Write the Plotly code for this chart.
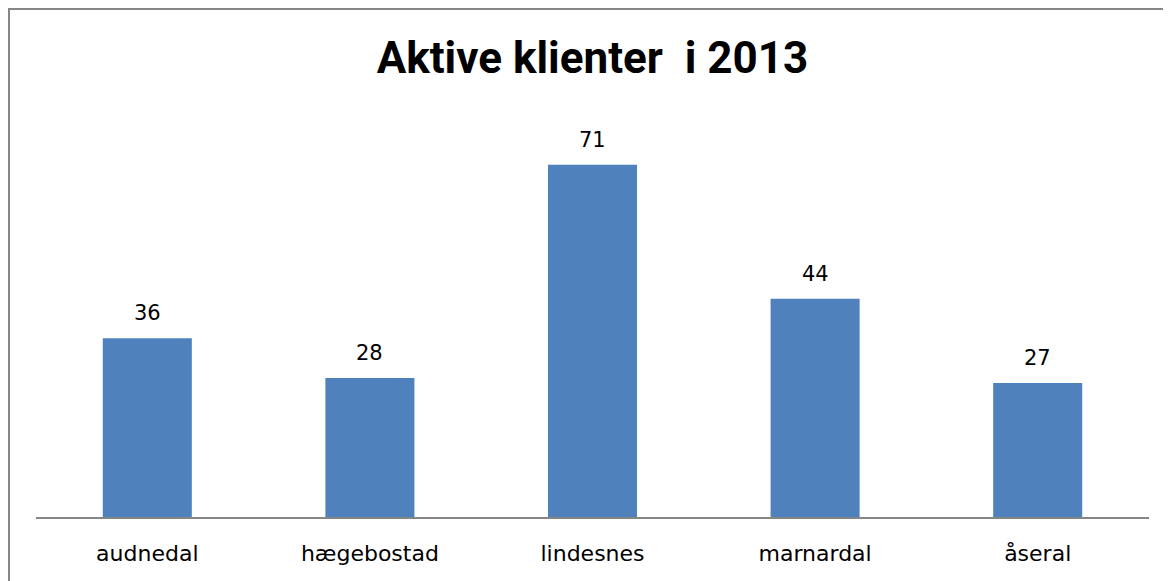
import plotly.graph_objects as go

categories = ["audnedal", "hægebostad", "lindesnes", "marnardal", "åseral"]
values = [36, 28, 71, 44, 27]
title_text = "Aktive klienter\u00a0\u00a0i 2013"

# page has an 8px body margin; compensate so the drawing lands where the reference is
OFF = 8
W, H = 1171 - OFF, 581 - OFF
L, R, T, B = 36 - OFF, 22, 120 - OFF, 64
pw, ph = W - L - R, H - T - B

fig = go.Figure()
fig.add_trace(go.Bar(
    x=categories, y=values,
    marker=dict(color="#4F81BD", line=dict(width=0)),
    width=0.4,
))

for c, v in zip(categories, values):
    fig.add_annotation(
        x=c, y=v, text=str(v), showarrow=False,
        yanchor="bottom", yshift=11,
        font=dict(family="DejaVu Sans", size=21, color="#000000"),
    )

# outer chart border (extends past the visible canvas on right/bottom)
fig.add_shape(
    type="rect", xref="paper", yref="paper",
    x0=(1 - L) / pw, x1=(W + 10 - L) / pw,
    y0=-(H + 10 - (T + ph)) / ph, y1=(T + ph - 1) / ph,
    line=dict(color="#868686", width=2), fillcolor="rgba(0,0,0,0)",
    layer="below",
)

fig.update_layout(
    width=W, height=H,
    margin=dict(l=L, r=R, t=T, b=B),
    paper_bgcolor="white", plot_bgcolor="white",
    showlegend=False,
    title=dict(
        text="<b>" + title_text + "</b>",
        x=(L + pw / 2) / W, xanchor="center",
        y=1 - (58 - OFF) / H, yanchor="middle",
        font=dict(family="Roboto", size=44, color="#000000"),
    ),
    bargap=0.6,
)
fig.update_xaxes(
    showline=True, linecolor="#868686", linewidth=2,
    showgrid=False, ticks="", zeroline=False,
    tickfont=dict(family="DejaVu Sans", size=22, color="#000000"),
    ticklabelstandoff=16,
)
fig.update_yaxes(
    range=[0, 80], visible=False, showgrid=False, zeroline=False,
)

fig.write_html("out.html")
